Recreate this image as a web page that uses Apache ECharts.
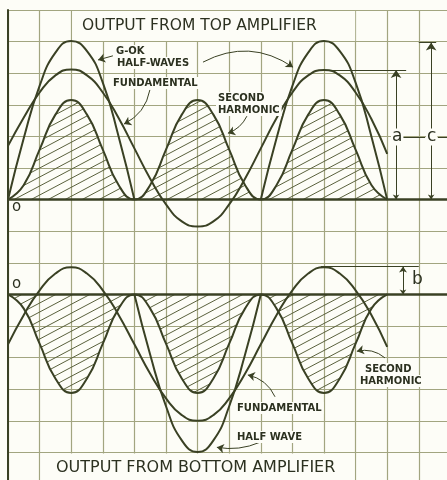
<!DOCTYPE html>
<html><head><meta charset="utf-8">
<script src="https://cdn.jsdelivr.net/npm/echarts@6/dist/echarts.min.js"></script>
<style>html,body{margin:0;padding:0;background:#fdfdf7;}#c{width:447px;height:480px;}</style>
</head><body><div id="c"></div>
<script>
// Phase positions in grid squares (8 squares = one fundamental cycle)
const phase = [0,0.5,1,1.5,2,2.5,3,3.5,4,4.5,5,5.5,6,6.5,7,7.5,8,8.5,9,9.5,10,10.5,11,11.5,12];
// Output from top amplifier (grid squares above its baseline)
const topFundamental = [1.70,2.60,3.39,3.93,4.12,3.93,3.39,2.58,1.62,0.66,-0.15,-0.69,-0.85,-0.69,-0.15,0.66,1.62,2.58,3.39,3.93,4.10,3.93,3.39,2.55,1.45];
const topSecondHarmonic = [0,0.46,1.58,2.69,3.15,2.69,1.58,0.46,0,0.46,1.58,2.69,3.15,2.69,1.58,0.46,0,0.46,1.58,2.69,3.15,2.69,1.58,0.46,0];
const topHalfWaveA = [0,1.95,3.60,4.65,5.02,4.70,3.70,2.00,0];   // phase 0..4
const topHalfWaveB = [0,1.95,3.60,4.65,5.02,4.70,3.70,2.00,0];   // phase 8..12
// Output from bottom amplifier
const bottomFundamental = [-1.58,-0.65,0.13,0.66,0.86,0.66,0.13,-0.65,-1.58,-2.51,-3.29,-3.82,-4.00,-3.82,-3.29,-2.51,-1.58,-0.65,0.13,0.66,0.86,0.66,0.13,-0.65,-1.66];
const bottomSecondHarmonic = [0,-0.45,-1.56,-2.66,-3.12,-2.66,-1.56,-0.45,0,-0.45,-1.56,-2.66,-3.12,-2.66,-1.56,-0.45,0,-0.45,-1.56,-2.66,-3.12,-2.66,-1.56,-0.45,0];
const bottomHalfWave = [0,-1.91,-3.54,-4.62,-4.99,-4.62,-3.54,-1.91,0]; // phase 4..8

const BG = '#fdfdf7', GRID = '#a2a580', INK = '#3a4124', TXT = '#2c3120';

function pairs(xs, ys){ return ys.map((v,i)=>[xs[i], v]); }

// diagonal hatch pattern
const hatch = document.createElement('canvas');
hatch.width = 17; hatch.height = 9;
(function(){
  const g = hatch.getContext('2d');
  g.strokeStyle = '#59603c'; g.lineWidth = 1;
  for (const k of [-1,0,1]) { g.beginPath(); g.moveTo(0, 9 + k*9); g.lineTo(17, k*9); g.stroke(); }
})();

const curve = (name, yAxisIndex, data, extra) => Object.assign({
  type:'line', name, yAxisIndex, data, smooth:0.5, symbol:'none', silent:true,
  lineStyle:{color:INK, width:2}, z:3
}, extra||{});

const seg = (a, b, c) => ({coords:[a, b], lineStyle:{curveness: c || 0}});
const linesSeries = (yAxisIndex, symbol, symbolSize, data, width) => ({
  type:'lines', coordinateSystem:'cartesian2d', xAxisIndex:0, yAxisIndex, silent:true, z:4,
  symbol, symbolSize, lineStyle:{color:INK, width: width || 1, opacity:1, type:'solid'},
  effect:{show:false}, label:{show:false}, data
});

// dimension arrows (double-headed)
const topDims = [ seg([12.28,0],[12.28,4.10]), seg([13.39,0],[13.39,4.97]) ];
const bottomDims = [ seg([12.5,0],[12.5,0.88]) ];
// plain extension lines
const topExt = [ seg([9.9,4.10],[12.6,4.10]), seg([13.0,4.99],[13.55,4.99]), seg([12.45,1.97],[13.2,1.97]), seg([13.6,1.97],[14,1.97]) ];
const bottomExt = [ seg([9.9,0.88],[13.0,0.88]) ];
// leader arrows to curves
const topLeaders = [
  seg([3.32,4.55],[2.85,4.42]),
  seg([6.17,4.35],[9.02,4.19], 0.3),
  seg([4.49,3.47],[3.67,2.39], 0.25),
  seg([7.56,2.64],[6.96,2.10], 0.2)
];
const bottomLeaders = [
  seg([11.93,-2.01],[11.04,-1.80], -0.25),
  seg([8.45,-3.24],[7.59,-2.55], -0.25),
  seg([7.97,-4.68],[6.61,-4.84], 0.15)
];

const baseLine = {silent:true, symbol:['none','none'], label:{show:false}, emphasis:{disabled:true}, animation:false,
  data:[{yAxis:0, lineStyle:{type:'solid', color:INK, width:2.5}}]};

const lbl = (text, x, y, font, bg) => ({
  type:'text', z:10, silent:true,
  style: Object.assign({text, x, y, font, fill:TXT, verticalAlign:'middle'}, bg ? {backgroundColor:BG, padding:[1,2]} : {})
});

const F = 'bold 10px "DejaVu Sans"';

const option = {
  animation:false,
  backgroundColor:BG,
  grid:{left:8, top:10, width:442.4, height:474, containLabel:false, outerBoundsMode:'none'},
  xAxis:{type:'value', min:0, max:14, interval:1, axisLabel:{show:false}, axisTick:{show:false},
    axisLine:{show:false}, splitLine:{show:true, lineStyle:{color:GRID, width:1.2}}},
  yAxis:[
    {type:'value', min:-9, max:6, interval:1, axisLabel:{show:false}, axisTick:{show:false},
      axisLine:{show:true, onZero:false, lineStyle:{color:INK, width:2}}, splitLine:{show:true, lineStyle:{color:GRID, width:1.2}}},
    {type:'value', min:-6, max:9, interval:1, show:false, splitLine:{show:false}}
  ],
  series:[
    curve('topSecond', 0, pairs(phase, topSecondHarmonic), {areaStyle:{color:{image:hatch, repeat:'repeat'}, opacity:1}}),
    curve('topFund', 0, pairs(phase, topFundamental), {markLine: baseLine}),
    curve('topHalfA', 0, pairs(phase.slice(0,9), topHalfWaveA)),
    curve('topHalfB', 0, pairs(phase.slice(16,25), topHalfWaveB)),
    curve('botSecond', 1, pairs(phase, bottomSecondHarmonic), {areaStyle:{color:{image:hatch, repeat:'repeat'}, opacity:1}}),
    curve('botFund', 1, pairs(phase, bottomFundamental), {markLine: baseLine}),
    curve('botHalf', 1, pairs(phase.slice(8,17), bottomHalfWave)),
    linesSeries(0, ['arrow','arrow'], [5,8], topDims),
    linesSeries(1, ['arrow','arrow'], [5,6], bottomDims),
    linesSeries(0, ['none','none'], 1, topExt),
    linesSeries(1, ['none','none'], 1, bottomExt),
    linesSeries(0, ['none','arrow'], [5,7], topLeaders),
    linesSeries(1, ['none','arrow'], [5,7], bottomLeaders)
  ],
  graphic:[
    {type:'rect', z:1, silent:true, shape:{x:72.2, y:11, width:283, height:30}, style:{fill:BG}},
    {type:'rect', z:1, silent:true, shape:{x:40.6, y:453.4, width:314, height:30}, style:{fill:BG}},
    lbl('OUTPUT FROM TOP AMPLIFIER', 82, 26, '15.5px "DejaVu Sans"'),
    lbl('OUTPUT FROM BOTTOM AMPLIFIER', 56, 468, '16px "DejaVu Sans"'),
    lbl('G-OK', 114, 51, F, true),
    lbl('HALF-WAVES', 115, 63, F, true),
    lbl('FUNDAMENTAL', 111, 83, F, true),
    lbl('SECOND', 216, 98, F, true),
    lbl('HARMONIC', 216, 110, F, true),
    lbl('SECOND', 363, 369, F, true),
    lbl('HARMONIC', 358, 381, F, true),
    lbl('FUNDAMENTAL', 235, 408, F, true),
    lbl('HALF WAVE', 235, 437, F, true),
    lbl('o', 12, 207, '15px "DejaVu Sans"'),
    lbl('o', 12, 284, '15px "DejaVu Sans"'),
    {type:'text', z:10, silent:true, style:{text:'a', x:391, y:137, font:'17px "DejaVu Sans"', fill:TXT, verticalAlign:'middle', backgroundColor:BG, padding:[0,1]}},
    {type:'text', z:10, silent:true, style:{text:'c', x:426, y:137, font:'17px "DejaVu Sans"', fill:TXT, verticalAlign:'middle', backgroundColor:BG, padding:[0,1]}},
    lbl('b', 412, 280, '17px "DejaVu Sans"')
  ]
};
const chart = echarts.init(document.getElementById('c'), null, {renderer:'canvas'});
chart.setOption(option);
</script></body></html>
